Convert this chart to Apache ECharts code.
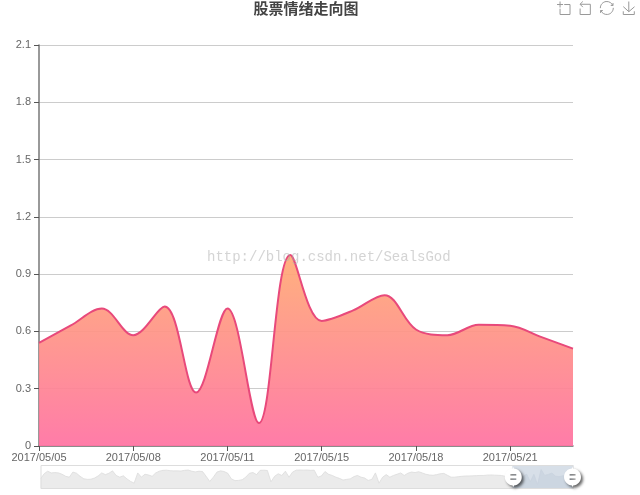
<!DOCTYPE html>
<html>
<head>
<meta charset="utf-8">
<script src="https://cdn.jsdelivr.net/npm/echarts@6/dist/echarts.min.js"></script>
<style>html,body{margin:0;padding:0;background:#fff}#c{width:640px;height:495px}</style>
</head>
<body>
<div id="c"></div>
<script>
const chartTitle = '股票情绪走向图';
const watermark = 'http://blog.csdn.net/SealsGod';
const historyDates = [
'2016/12/25','2016/12/26','2016/12/27','2016/12/28','2016/12/29','2016/12/30','2016/12/31',
'2017/01/01','2017/01/02','2017/01/03','2017/01/04','2017/01/05','2017/01/06','2017/01/07','2017/01/08','2017/01/09','2017/01/10','2017/01/11','2017/01/12','2017/01/13','2017/01/14','2017/01/15','2017/01/16','2017/01/17','2017/01/18','2017/01/19','2017/01/20','2017/01/21','2017/01/22','2017/01/23','2017/01/24','2017/01/25','2017/01/26','2017/01/27','2017/01/28','2017/01/29','2017/01/30','2017/01/31',
'2017/02/01','2017/02/02','2017/02/03','2017/02/04','2017/02/05','2017/02/06','2017/02/07','2017/02/08','2017/02/09','2017/02/10','2017/02/11','2017/02/12','2017/02/13','2017/02/14','2017/02/15','2017/02/16','2017/02/17','2017/02/18','2017/02/19','2017/02/20','2017/02/21','2017/02/22','2017/02/23','2017/02/24','2017/02/25','2017/02/26','2017/02/27','2017/02/28',
'2017/03/01','2017/03/02','2017/03/03','2017/03/04','2017/03/05','2017/03/06','2017/03/07','2017/03/08','2017/03/09','2017/03/10','2017/03/11','2017/03/12','2017/03/13','2017/03/14','2017/03/15','2017/03/16','2017/03/17','2017/03/18','2017/03/19','2017/03/20','2017/03/21','2017/03/22','2017/03/23','2017/03/24','2017/03/25','2017/03/26','2017/03/27','2017/03/28','2017/03/29','2017/03/30','2017/03/31',
'2017/04/01','2017/04/02','2017/04/03','2017/04/04','2017/04/05','2017/04/06','2017/04/07','2017/04/08','2017/04/09','2017/04/10','2017/04/11','2017/04/12','2017/04/13','2017/04/14','2017/04/15','2017/04/16','2017/04/17','2017/04/18','2017/04/19','2017/04/20','2017/04/21','2017/04/22','2017/04/23','2017/04/24','2017/04/25','2017/04/26','2017/04/27','2017/04/28','2017/04/29','2017/04/30',
'2017/05/01','2017/05/02','2017/05/03','2017/05/04'
];
const visibleDates = ['2017/05/05','2017/05/06','2017/05/07','2017/05/08','2017/05/09','2017/05/10','2017/05/11','2017/05/12','2017/05/13','2017/05/15','2017/05/16','2017/05/17','2017/05/18','2017/05/19','2017/05/20','2017/05/21','2017/05/22','2017/05/23'];
const historyValues = [
.45,.75,.9,.8,.82,.8,.72,.6,.55,.85,.78,.6,.46,.42,.43,.5,.62,.8,.7,.78,.92,.65,.55,.63,.45,.3,.2,.8,.55,.72,.68,.6,.8,.9,.95,.96,.93,.92,.92,.91,.95,.97,.9,.86,.9,.88,.6,.3,.55,.85,.92,
.88,.78,.45,.35,.36,.4,.55,.78,.82,.7,.95,.96,.94,.28,.6,.75,.65,.9,.55,.85,.96,.97,.96,.97,.95,.96,.55,.62,.88,.72,.65,.55,.48,.38,.42,.45,.58,.65,.55,.5,.36,.42,.8,.2,.55,.7,.55,.65,.72,.8,
.65,.78,.85,.82,.87,.8,.72,.68,.66,.7,.75,.77,.66,.55,.55,.58,.6,.62,.62,.63,.64,.65,.65,.67,.68,.67,.66,.65,.6,.55
];
const visibleValues = [.54,.63,.72,.58,.73,.28,.72,.12,1.0,.655,.71,.79,.61,.58,.635,.63,.57,.51];

const dates = historyDates.concat(visibleDates);
const values = historyValues.concat(visibleValues);
const everyThird = idx => (idx - historyDates.length) % 3 === 0;

const handleIcon = 'M10.7,11.9v-1.3H9.3v1.3c-4.9,0.3-8.8,4.4-8.8,9.4c0,5,3.9,9.1,8.8,9.4v1.3h1.3v-1.3c4.9-0.3,8.8-4.4,8.8-9.4C19.5,16.3,15.6,12.2,10.7,11.9z M13.3,24.4H6.7V23h6.6V24.4z M13.3,19.6H6.7v-1.4h6.6V19.6z';
const chart = echarts.init(document.getElementById('c'), null, {renderer: 'canvas'});
chart.setOption({
  animation: false,
  backgroundColor: '#fff',
  textStyle: {fontFamily: '"Liberation Sans", "Noto Sans CJK SC", sans-serif'},
  title: {
    text: chartTitle, left: 301, top: -4, textAlign: 'center',
    textStyle: {fontSize: 15, fontWeight: 'bold', color: '#444', fontFamily: '"Noto Sans CJK SC", sans-serif'}
  },
  toolbox: {
    show: true, right: -12, top: -16, itemSize: 13, itemGap: 5,
    iconStyle: {borderColor: '#999'},
    feature: {
      dataZoom: {yAxisIndex: 'none'},
      restore: {},
      saveAsImage: {}
    }
  },
  grid: {left: 39, right: 67, top: 45, bottom: 49, containLabel: false},
  xAxis: {
    type: 'category', data: dates, boundaryGap: false,
    axisLine: {lineStyle: {color: '#777', width: 1.5}},
    axisTick: {show: true, interval: everyThird, length: 5, lineStyle: {color: '#555'}},
    axisLabel: {interval: everyThird, color: '#666', fontSize: 11, margin: 6, hideOverlap: false},
    splitLine: {show: false}
  },
  yAxis: {
    type: 'value', min: 0, max: 2.1, interval: 0.3,
    axisLine: {show: true, lineStyle: {color: '#777', width: 1.5}},
    axisTick: {show: true, length: 5, lineStyle: {color: '#555'}},
    axisLabel: {color: '#666', fontSize: 11, margin: 8, formatter: v => String(+v.toFixed(1))},
    splitLine: {show: true, lineStyle: {color: '#ccc', width: 1}}
  },
  dataZoom: [{
    type: 'slider', xAxisIndex: 0, filterMode: 'filter',
    startValue: historyDates.length, endValue: dates.length - 1,
    left: 38, right: 69, top: 465, height: 24,
    showDetail: false, brushSelect: false, moveHandleSize: 0,
    borderColor: '#ddd', backgroundColor: 'rgba(47,69,84,0)',
    fillerColor: 'rgba(167,183,204,0.45)',
    dataBackground: {lineStyle: {color: '#dcdcdc', width: 0.8}, areaStyle: {color: '#e6e6e6', opacity: 0.8}},
    selectedDataBackground: {lineStyle: {color: '#e4e8ee', width: 0.8}, areaStyle: {color: '#dde2ea', opacity: 0.6}},
    handleIcon: handleIcon, handleSize: '80%',
    handleStyle: {color: '#fff', borderColor: '#bbb', borderWidth: 0, shadowBlur: 3, shadowColor: 'rgba(0,0,0,0.6)', shadowOffsetX: 2, shadowOffsetY: 2},
    emphasis: {handleStyle: {color: '#fff'}}
  }],
  graphic: [{
    type: 'text', left: 207, top: 250, z: 100, silent: true,
    style: {text: watermark, fill: 'rgba(170,170,170,0.5)', font: '14px "Liberation Mono", monospace'}
  }],
  series: [{
    type: 'line', data: values, smooth: 0.35, showSymbol: false,
    lineStyle: {color: '#e8497b', width: 2},
    itemStyle: {color: '#e8497b'},
    areaStyle: {
      opacity: 0.93,
      color: new echarts.graphic.LinearGradient(0, 0, 0, 1, [
        {offset: 0, color: '#ffab74'},
        {offset: 1, color: '#ff72a2'}
      ])
    }
  }]
});
</script>
</body>
</html>
